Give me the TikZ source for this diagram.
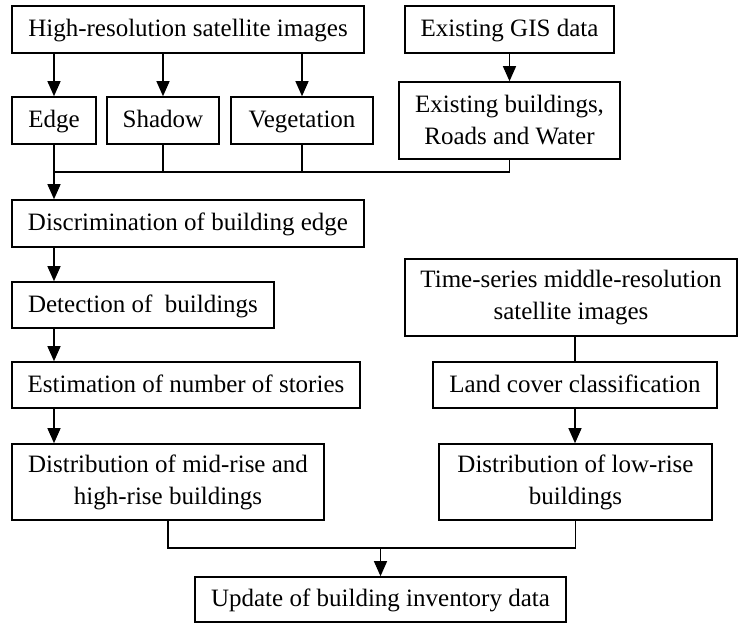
\documentclass[tikz,border=0pt]{standalone}
\usepackage{fontspec}
\setmainfont{Liberation Serif}
\usetikzlibrary{arrows.meta}

\tikzset{
  box/.style={draw, line width=0.8pt, align=center, inner sep=0pt, font=\fontsize{12.5}{16}\selectfont},
  onebox/.style={box, text height=0.94em, text depth=0.24em},
  link/.style={line width=0.6pt}
}

\begin{document}
\begin{tikzpicture}[x=0.5pt,y=-0.5pt,>={Triangle[length=7.5pt,width=6.5pt]}]
\useasboundingbox (0,0) rectangle (738,623);
% top row
\node[onebox, minimum width=176pt, minimum height=23.5pt] (hires) at (188,29.5) {High-resolution satellite images};
\node[onebox, minimum width=104.5pt, minimum height=23.5pt] (gis) at (509.5,29.5) {Existing GIS data};
\node[onebox, minimum width=42pt, minimum height=23.5pt] (edge) at (54,120.5) {Edge};
\node[onebox, minimum width=56pt, minimum height=23.5pt] (shadow) at (163,120.5) {Shadow};
\node[onebox, minimum width=71pt, minimum height=23.5pt] (veg) at (302,120.5) {Vegetation};
\node[box, minimum width=110.5pt, minimum height=38.5pt] (exist) at (509.5,120.5) {Existing buildings,\\Roads and Water};
% left column
\node[onebox, minimum width=176pt, minimum height=23.5pt] (discr) at (188,223.5) {Discrimination of building edge};
\node[onebox, minimum width=131pt, minimum height=23pt] (detect) at (143,305) {Detection of ~buildings};
\node[onebox, minimum width=174pt, minimum height=23pt] (estim) at (186,385) {Estimation of number of stories};
\node[box, minimum width=156pt, minimum height=38pt] (midrise) at (168,482) {Distribution of mid-rise and\\high-rise buildings};
% right column
\node[box, minimum width=166pt, minimum height=38.5pt] (timeser) at (571,297.5) {Time-series middle-resolution\\satellite images};
\node[onebox, minimum width=142pt, minimum height=23pt] (landcov) at (575,385) {Land cover classification};
\node[box, minimum width=136.5pt, minimum height=38pt] (lowrise) at (575.5,482) {Distribution of low-rise\\buildings};
% bottom
\node[onebox, minimum width=185.5pt, minimum height=22.5pt] (update) at (380.5,599.5) {Update of building inventory data};

\coordinate (merge1) at (54,172);
\coordinate (merge2) at (380.5,548);

\draw[link,->] (hires.south -| edge) -- (edge.north);
\draw[link,->] (hires.south -| shadow) -- (shadow.north);
\draw[link,->] (hires.south -| veg) -- (veg.north);
\draw[link,->] (gis.south) -- (exist.north);
\draw[link] (shadow.south) -- (shadow.south |- merge1);
\draw[link] (veg.south) -- (veg.south |- merge1);
\draw[link] (exist.south) |- (merge1);
\draw[link,->] (edge.south) -- (edge.south |- discr.north);
\draw[link,->] (discr.south -| merge1) -- (detect.north -| merge1);
\draw[link,->] (detect.south -| merge1) -- (estim.north -| merge1);
\draw[link,->] (estim.south -| merge1) -- (midrise.north -| merge1);
\draw[link] (timeser.south -| landcov) -- (landcov.north);
\draw[link,->] (landcov.south) -- (lowrise.north -| landcov);
\draw[link] (midrise.south) |- (merge2) -| (lowrise.south);
\draw[link,->] (merge2) -- (update.north);
\end{tikzpicture}
\end{document}
